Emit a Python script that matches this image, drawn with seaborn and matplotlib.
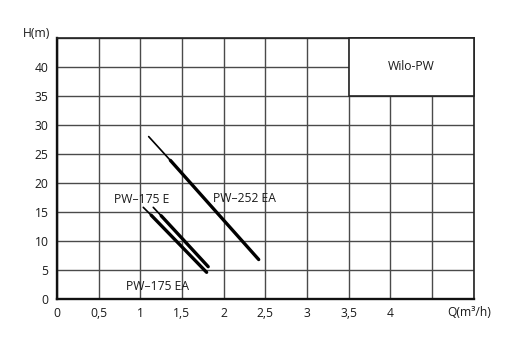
import matplotlib
matplotlib.use("Agg")
import matplotlib.pyplot as plt
import seaborn as sns
import pandas as pd
from matplotlib.patches import Rectangle

# ---- data ----
x_ticks = [0, 0.5, 1, 1.5, 2, 2.5, 3, 3.5, 4, 4.5, 5]
x_tick_labels = ["0", "0,5", "1", "1,5", "2", "2,5", "3", "3,5", "4", "", ""]
y_ticks = [0, 5, 10, 15, 20, 25, 30, 35, 40, 45]
y_tick_labels = ["0", "5", "10", "15", "20", "25", "30", "35", "40", ""]

# PW-252 EA
q252_thin = [1.10, 1.36]
h252_thin = [28.0, 23.9]
q252 = [1.36, 2.42]
h252 = [23.9, 6.8]

# PW-175 E
q175e_thin = [1.155, 1.25]
h175e_thin = [15.8, 14.35]
q175e = [1.25, 1.814]
h175e = [14.35, 5.57]

# PW-175 EA
q175ea_thin = [1.035, 1.13]
h175ea_thin = [15.8, 14.45]
q175ea = [1.13, 1.795]
h175ea = [14.45, 4.6]

box_title = "Wilo-PW"
x_label = "Q(m³/h)"
y_label = "H(m)"

sns.set_style("white")
plt.rcParams["font.family"] = ["Open Sans", "DejaVu Sans"]

TXT = "#1a1a1a"
FS = 8.7

fig = plt.figure(figsize=(5.2, 3.37), dpi=100)
ax = fig.add_axes([0.1096, 0.1128, 0.8015, 0.7745])

def seg(q, h, lw):
    df = pd.DataFrame({"Q": q, "H": h})
    sns.lineplot(data=df, x="Q", y="H", ax=ax, color="black", linewidth=lw,
                 sort=False, estimator=None, zorder=4, solid_capstyle="round")

seg(q252_thin, h252_thin, 1.2)
seg(q252, h252, 2.4)
seg(q175e_thin, h175e_thin, 1.2)
seg(q175e, h175e, 2.4)
seg(q175ea_thin, h175ea_thin, 1.2)
seg(q175ea, h175ea, 2.4)

ax.set_xlim(0, 5)
ax.set_ylim(0, 45)
ax.set_xticks(x_ticks)
ax.set_xticklabels(x_tick_labels)
ax.set_yticks(y_ticks)
ax.set_yticklabels(y_tick_labels)
ax.tick_params(axis="both", length=0, labelsize=FS, colors=TXT, pad=6)
ax.set_xlabel("")
ax.set_ylabel("")

ax.grid(True, color="#4a4a4a", linewidth=1.0)
ax.set_axisbelow(True)

for side in ["top", "right"]:
    ax.spines[side].set_linewidth(1.2)
    ax.spines[side].set_color("#222222")
for side in ["left", "bottom"]:
    ax.spines[side].set_linewidth(1.7)
    ax.spines[side].set_color("#111111")

# title box
rect = Rectangle((3.5, 35), 1.5, 10, facecolor="white", edgecolor="#222222",
                 linewidth=1.2, zorder=3, clip_on=False)
ax.add_patch(rect)
ax.text(4.25, 40, box_title, ha="center", va="center", fontsize=FS,
        color=TXT, zorder=5)

# curve labels
ax.text(2.25, 17.3, "PW–252 EA", ha="center", va="center", fontsize=FS,
        color=TXT, zorder=5)
ax.text(1.02, 17.2, "PW–175 E", ha="center", va="center", fontsize=FS,
        color=TXT, zorder=5)
ax.text(1.2, 2.1, "PW–175 EA", ha="center", va="center", fontsize=FS,
        color=TXT, zorder=5)

# axis labels
ax.text(-0.08, 45.8, y_label, ha="right", va="center", fontsize=FS,
        color=TXT)
ax.text(4.94, -2.3, x_label, ha="center", va="center", fontsize=FS,
        color=TXT)

fig.savefig("out.png", dpi=100)
